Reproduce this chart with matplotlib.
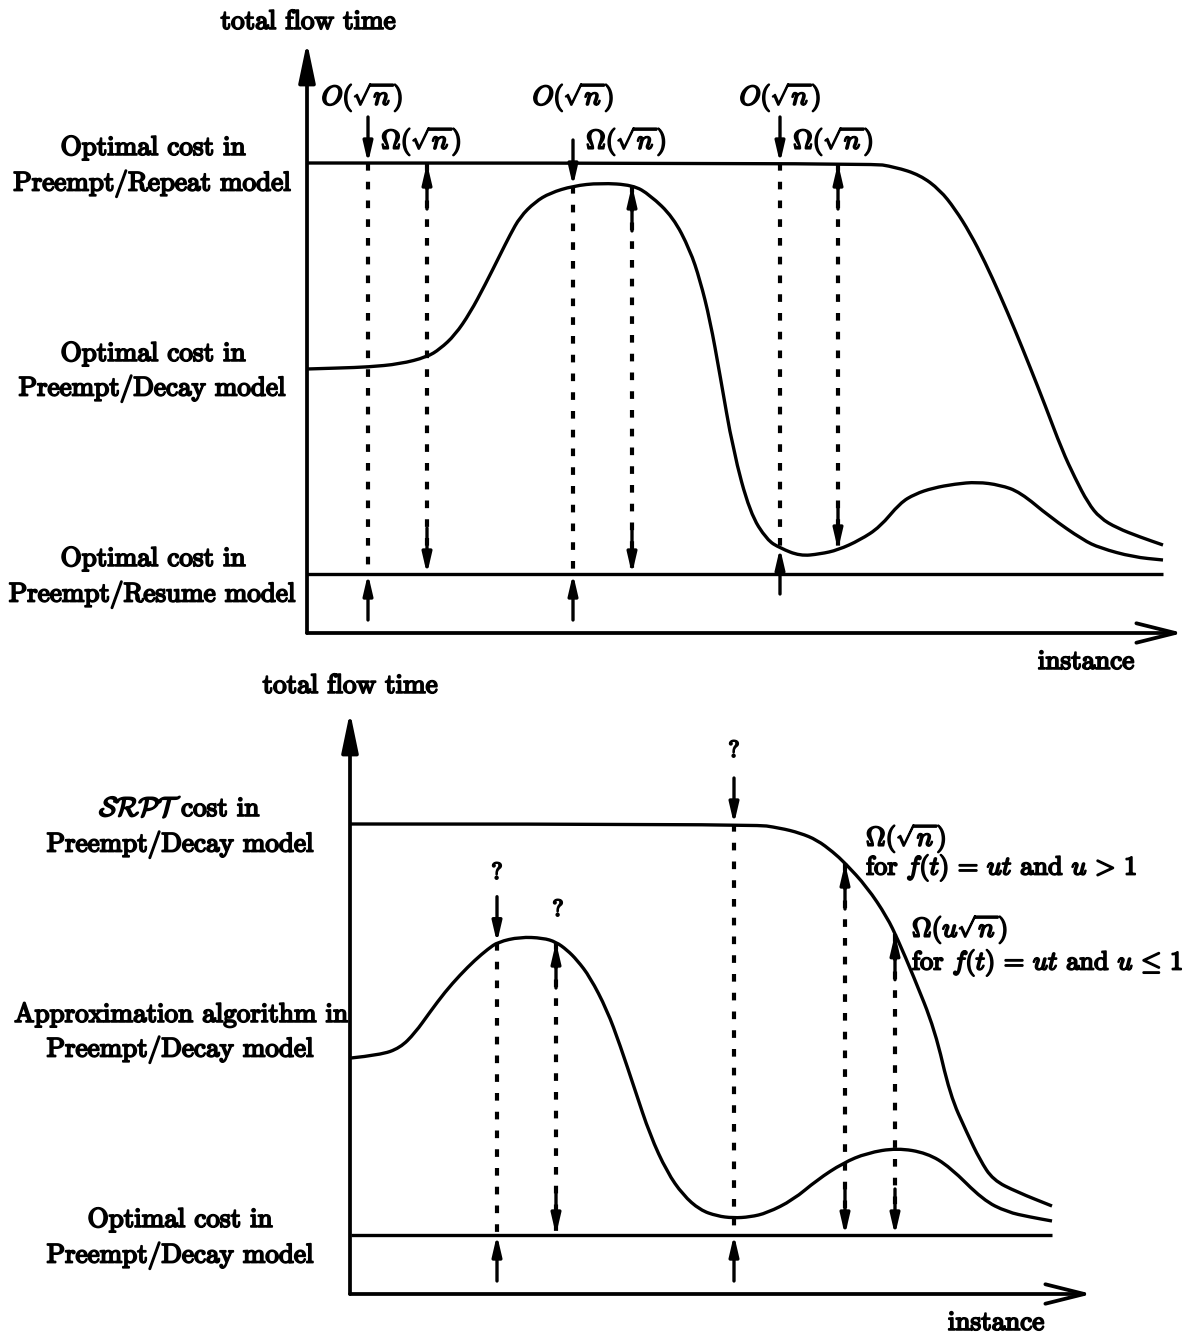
import numpy as np
import matplotlib.pyplot as plt
import matplotlib.patheffects as pe
from matplotlib.path import Path
from matplotlib.patches import PathPatch

plt.rcParams['font.family'] = 'cmr10'
plt.rcParams['mathtext.fontset'] = 'cm'
plt.rcParams['lines.scale_dashes'] = False
plt.rcParams['axes.unicode_minus'] = False

# ---- curves (pixel coordinates, y grows downward) ----
# upper panel
repeat_x = [307, 870, 895, 920, 940, 955, 970, 985, 1000, 1015, 1030, 1045, 1062,
            1075, 1088, 1100, 1117, 1140, 1163]
repeat_y = [163, 163, 167, 175, 190, 209, 233, 262, 295, 330, 367, 405, 450,
            478, 503, 518, 528, 537, 545]

decay_x = [307, 340, 368, 400, 427, 440, 455, 470, 485, 500, 510, 520, 535, 550, 573,
           600, 633, 650, 673, 690, 700, 710, 720, 733, 750, 767, 780, 800, 820, 838,
           860, 880, 900, 915, 933, 955, 977, 1000, 1020, 1050, 1083, 1100, 1133, 1163]
decay_y = [369, 368, 367, 364, 357, 349, 335, 313, 285, 255, 235, 217, 202, 193, 186,
           183, 185, 195, 217, 250, 280, 320, 375, 450, 513, 540, 548, 556, 554, 550,
           540, 527, 503, 494, 488, 484, 482, 485, 492, 517, 540, 548, 557, 560]

resume_x = [307, 1163]
resume_y = [574, 574]

# lower panel
srpt_x = [351, 753, 780, 800, 817, 833, 845, 867, 887, 898, 913, 935, 950, 967, 980, 993, 1017, 1052]
srpt_y = [824, 824, 828, 833, 840, 852, 863, 887, 917, 940, 975, 1030, 1095, 1133, 1160, 1180, 1192, 1206]

approx_x = [351, 380, 400, 415, 430, 445, 460, 475, 488, 498, 520, 543, 556, 567, 577, 590,
            607, 620, 635, 650, 667, 683, 700, 717, 733, 750, 767, 793, 817, 843, 867,
            897, 927, 950, 983, 1007, 1030, 1052]
approx_y = [1058, 1055, 1048, 1033, 1012, 992, 975, 960, 949, 942, 937, 938, 942, 950, 960, 977,
            1010, 1045, 1090, 1135, 1172, 1195, 1210, 1216, 1218, 1217, 1213, 1200, 1180, 1163, 1153,
            1148, 1153, 1167, 1200, 1212, 1217, 1221]

opt_decay_x = [351, 1052]
opt_decay_y = [1235, 1235]

# bound markers: (x, top curve, bottom curve, kind)
top_marks = [(368, 'repeat', 'resume', 'in'), (427, 'repeat', 'resume', 'out'),
             (573, 'decay', 'resume', 'in'), (632, 'decay', 'resume', 'out'),
             (780, 'repeat', 'decay', 'in'), (838, 'repeat', 'decay', 'out')]
bot_marks = [(497, 'approx', 'opt', 'in'), (556, 'approx', 'opt', 'out'),
             (734, 'srpt', 'opt', 'in'), (845, 'srpt', 'opt', 'out'),
             (895, 'srpt', 'opt', 'out')]

curves = {'repeat': (repeat_x, repeat_y), 'decay': (decay_x, decay_y),
          'resume': (resume_x, resume_y), 'srpt': (srpt_x, srpt_y),
          'approx': (approx_x, approx_y), 'opt': (opt_decay_x, opt_decay_y)}

fig = plt.figure(figsize=(11.93, 13.38), dpi=100)
ax = fig.add_axes([0, 0, 1, 1])
ax.set_xlim(0, 1193)
ax.set_ylim(1338, 0)
ax.axis('off')

LW = 2.4
fx = [pe.withStroke(linewidth=1.3, foreground='black')]
head = dict(arrowstyle='-|>,head_length=0.6,head_width=0.14', mutation_scale=20,
            lw=LW, color='black', shrinkA=0, shrinkB=0)


def draw_curve(xs, ys):
    # quadratic Bezier through midpoints so the hand-drawn curves stay smooth
    pts = list(zip(xs, ys))
    verts = [pts[0]]
    codes = [Path.MOVETO]
    for i in range(1, len(pts) - 1):
        mid = ((pts[i][0] + pts[i + 1][0]) / 2, (pts[i][1] + pts[i + 1][1]) / 2)
        verts += [pts[i], mid]
        codes += [Path.CURVE3, Path.CURVE3]
    verts.append(pts[-1])
    codes.append(Path.LINETO)
    ax.add_patch(PathPatch(Path(verts, codes), fill=False, lw=LW, ec='black',
                           capstyle='butt', joinstyle='round'))


def axis_arrows(x0, y0, x1, ytip):
    ax.annotate('', xy=(x0, ytip), xytext=(x0, y0),
                arrowprops=dict(arrowstyle='-|>,head_length=1.2,head_width=0.25',
                                mutation_scale=20, lw=LW + 0.3, color='black',
                                shrinkA=0, shrinkB=0))
    ax.annotate('', xy=(x1, y0), xytext=(x0, y0),
                arrowprops=dict(arrowstyle='->,head_length=1.4,head_width=0.35',
                                mutation_scale=20, lw=LW + 0.3, color='black',
                                shrinkA=0, shrinkB=0))


def mark(x, top, bot, kind):
    yt = np.interp(x, *curves[top])
    yb = np.interp(x, *curves[bot])
    stub = 46
    ax.plot([x, x], [yt, yb], color='black', lw=3.0, dashes=(5.5, 8))
    if kind == 'in':
        ax.annotate('', xy=(x, yt), xytext=(x, yt - stub), arrowprops=head)
        ax.annotate('', xy=(x, yb), xytext=(x, yb + stub), arrowprops=head)
    else:
        ax.annotate('', xy=(x, yt), xytext=(x, yt + stub), arrowprops=head)
        ax.annotate('', xy=(x, yb), xytext=(x, yb - stub), arrowprops=head)


def label(x, y, s, ha='center', size=19.5):
    ax.text(x, y, s, ha=ha, va='center', fontsize=size, path_effects=fx)


# ---- upper panel ----
axis_arrows(307, 633, 1183, 42)
for name in ['repeat', 'decay', 'resume']:
    draw_curve(*curves[name])
for m in top_marks:
    mark(*m)

label(308, 22, 'total flow time')
label(1086, 662, 'instance')
label(153, 148, 'Optimal cost in')
label(152, 184, 'Preempt/Repeat model')
label(153, 354, 'Optimal cost in')
label(152, 389, 'Preempt/Decay model')
label(153, 559, 'Optimal cost in')
label(152, 595, 'Preempt/Resume model')
for xo in [362, 573, 780]:
    label(xo, 97, r'$O(\sqrt{n})$')
for xo in [421, 626, 833]:
    label(xo, 141, r'$\Omega(\sqrt{n})$')

# ---- lower panel ----
axis_arrows(350, 1294, 1092, 712)
for name in ['srpt', 'approx', 'opt']:
    draw_curve(*curves[name])
for m in bot_marks:
    mark(*m)

label(350, 686, 'total flow time')
label(996, 1323, 'instance')
label(180, 808, r'$\mathcal{SRPT}$ cost in')
label(180, 845, 'Preempt/Decay model')
label(181, 1015, 'Approximation algorithm in')
label(180, 1050, 'Preempt/Decay model')
label(180, 1220, 'Optimal cost in')
label(180, 1256, 'Preempt/Decay model')
label(497, 873, '?', size=17)
label(558, 910, '?', size=17)
label(734, 751, '?', size=17)
label(866, 838, r'$\Omega(\sqrt{n})$', ha='left')
label(866, 868, r'for $f(t)\,=\,ut$ and $u\,>\,1$', ha='left', size=19)
label(912, 929, r'$\Omega(u\sqrt{n})$', ha='left')
label(912, 963, r'for $f(t)\,=\,ut$ and $u\,\leq\,1$', ha='left', size=19)

fig.savefig('out.png', dpi=100)
